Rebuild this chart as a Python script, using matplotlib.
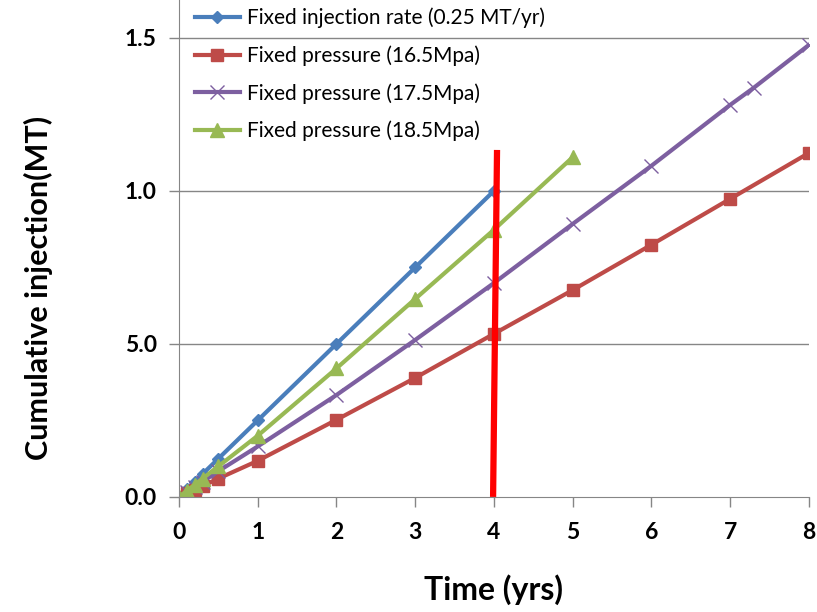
import numpy as np
import matplotlib.pyplot as plt

plt.rcParams['font.family'] = ['Lato', 'DejaVu Sans']

# injection time (yrs) and cumulative injection (MT) for each case
t_rate = [0, 0.1, 0.2, 0.3, 0.5, 1, 2, 3, 4]
q_rate = [0, 0.025, 0.05, 0.075, 0.125, 0.25, 0.5, 0.75, 1.0]

t_165 = [0, 0.1, 0.2, 0.3, 0.5, 1, 2, 3, 4, 5, 6, 7, 8]
q_165 = [0, 0.012, 0.024, 0.036, 0.06, 0.118, 0.252, 0.389, 0.533, 0.676, 0.824, 0.974, 1.124]

t_175 = [0, 0.1, 0.2, 0.3, 0.5, 1, 2, 3, 4, 5, 6, 7, 7.3, 8]
q_175 = [0, 0.017, 0.034, 0.05, 0.084, 0.165, 0.333, 0.513, 0.699, 0.892, 1.082, 1.281, 1.337, 1.477]

t_185 = [0, 0.1, 0.2, 0.3, 0.5, 1, 2, 3, 4, 5]
q_185 = [0, 0.02, 0.04, 0.06, 0.1, 0.2, 0.42, 0.647, 0.873, 1.11]

# marker line at 4 years
cut_x = [4.04, 3.99]
cut_y = [1.134, 0.0]

yticks = [0.0, 0.5, 1.0, 1.5]
ytick_labels = ['0.0', '5.0', '1.0', '1.5']
xticks = [0, 1, 2, 3, 4, 5, 6, 7, 8]

fig = plt.figure(figsize=(8.17, 6.12), dpi=100)
ax = fig.add_axes([0.219, 0.188, 0.771, 0.812])

ax.plot(t_rate, q_rate, '-D', color='#4a7ebb', lw=3, ms=6,
        label='Fixed injection rate (0.25 MT/yr)')
ax.plot(t_165, q_165, '-s', color='#be4b48', lw=3, ms=9,
        label='Fixed pressure (16.5Mpa)')
ax.plot(t_175, q_175, '-x', color='#7d5fa0', lw=3, ms=10, mew=1,
        label='Fixed pressure (17.5Mpa)')
ax.plot(t_185, q_185, '-^', color='#98b954', lw=3, ms=10,
        label='Fixed pressure (18.5Mpa)')
ax.plot(cut_x, cut_y, '-', color='#ff0000', lw=4.5, solid_capstyle='butt')

ax.set_xlim(0, 8)
ax.set_ylim(0, 1.624)
ax.set_xticks(xticks)
ax.set_yticks(yticks)
ax.set_yticklabels(ytick_labels)
ax.tick_params(axis='both', labelsize=16.5, direction='out', length=7,
               width=1, color='#868686')
for lab in ax.get_xticklabels() + ax.get_yticklabels():
    lab.set_fontweight('bold')
ax.tick_params(axis='x', pad=11)
ax.tick_params(axis='y', pad=9)

for y in yticks[1:]:
    ax.axhline(y, color='#868686', lw=1, zorder=0)

for side in ['top', 'right']:
    ax.spines[side].set_visible(False)
for side in ['left', 'bottom']:
    ax.spines[side].set_color('#868686')

ax.set_xlabel('Time (yrs)', fontsize=23, fontweight='bold')
ax.xaxis.set_label_coords(0.5, -0.155)
ax.set_ylabel('Cumulative injection(MT)', fontsize=22, fontweight='bold')
ax.yaxis.set_label_coords(-0.2, 0.42)

ax.legend(loc='upper left', bbox_to_anchor=(-0.005, 1.022), frameon=False,
          fontsize=15, handlelength=2.2, labelspacing=0.82, handletextpad=0.3)

fig.savefig('out.png', dpi=100)
plt.close()
